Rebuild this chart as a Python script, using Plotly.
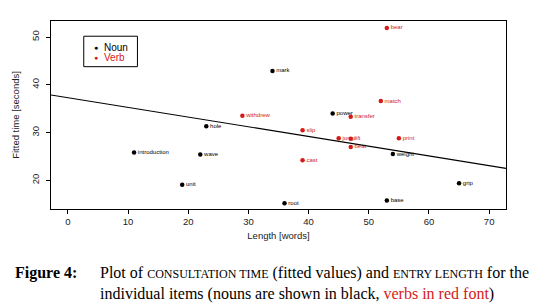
import plotly.graph_objects as go

# ---- data ----
noun_words = ["mark", "power", "hole", "introduction", "wave", "weight", "unit", "grip", "base", "root"]
noun_length = [34, 44, 23, 11, 22, 54, 19, 65, 53, 36]
noun_time = [42.9, 34.0, 31.3, 25.8, 25.4, 25.5, 19.1, 19.4, 15.8, 15.2]

verb_words = ["bear", "match", "withdrew", "transfer", "slip", "jump", "lift", "print", "beat", "cast"]
verb_length = [53, 52, 29, 47, 39, 45, 47, 55, 47, 39]
verb_time = [51.9, 36.6, 33.5, 33.3, 30.5, 28.8, 28.7, 28.8, 27.0, 24.2]

fit_intercept = 37.3
fit_slope = -0.203

x_ticks = [0, 10, 20, 30, 40, 50, 60, 70]
y_ticks = [20, 30, 40, 50]
legend_labels = ["Noun", "Verb"]

BLACK = "#000000"
RED = "#d41a1a"
x_range = [-2.8, 72.8]
y_range = [14.0, 53.35]

fig = go.Figure()
fig.add_trace(go.Scatter(
    x=noun_length, y=noun_time, text=noun_words, mode="markers+text", name=legend_labels[0],
    marker=dict(color=BLACK, size=4.5, symbol="circle"),
    textposition="middle right", textfont=dict(family="Liberation Sans", size=6, color=BLACK),
    showlegend=False,
))
fig.add_trace(go.Scatter(
    x=verb_length, y=verb_time, text=verb_words, mode="markers+text", name=legend_labels[1],
    marker=dict(color=RED, size=4.5, symbol="circle"),
    textposition="middle right", textfont=dict(family="Liberation Sans", size=6, color=RED),
    showlegend=False,
))
# regression line across the full plot width
fig.add_trace(go.Scatter(
    x=x_range, y=[fit_intercept + fit_slope * v for v in x_range], mode="lines",
    line=dict(color=BLACK, width=1.2), showlegend=False, hoverinfo="skip",
))

fig.update_layout(
    width=546, height=308,
    margin=dict(l=43, r=48, t=13, b=107),
    paper_bgcolor="white", plot_bgcolor="white",
    font=dict(family="Liberation Sans", size=10, color="#222"),
    xaxis=dict(
        range=x_range, tickvals=x_ticks, ticks="outside", ticklen=4, tickcolor=BLACK,
        automargin=False,
        showgrid=False, zeroline=False, showline=True, linecolor=BLACK, linewidth=1, mirror=True,
        title=dict(text="Length [words]", font=dict(size=9.5, color="#222"), standoff=5),
        tickfont=dict(size=9.5, color="#222"),
    ),
    yaxis=dict(
        range=y_range, tickvals=y_ticks, ticks="outside", ticklen=4, tickcolor=BLACK,
        tickangle=-90, ticklabelstandoff=3, automargin=False,
        showgrid=False, zeroline=False, showline=True, linecolor=BLACK, linewidth=1, mirror=True,
        title=dict(text="Fitted time [seconds]", font=dict(size=9.5, color="#222"), standoff=8),
        tickfont=dict(size=9.5, color="#222"),
    ),
)

# legend box drawn manually (compact, like R's legend())
fig.add_shape(type="rect", xref="paper", yref="paper", x0=0.072, x1=0.190, y0=0.757, y1=0.919,
              line=dict(color=BLACK, width=1), fillcolor="white", layer="below")
for lab, col, yy in [(legend_labels[0], BLACK, 0.860), (legend_labels[1], RED, 0.805)]:
    fig.add_annotation(xref="paper", yref="paper", x=0.099, y=yy, text="●", showarrow=False,
                       font=dict(size=7, color=col), xanchor="center", yanchor="middle")
    fig.add_annotation(xref="paper", yref="paper", x=0.112, y=yy, text=lab, showarrow=False,
                       font=dict(family="Liberation Sans", size=10, color=col),
                       xanchor="left", yanchor="middle")

# figure caption
SC = "font-size:12px"
fig.add_annotation(
    xref="paper", yref="paper", x=-0.0835, y=-0.28, xanchor="left", yanchor="top",
    showarrow=False, align="left",
    font=dict(family="Liberation Serif", size=16, color=BLACK),
    text="<b>Figure 4:</b>",
)
fig.add_annotation(
    xref="paper", yref="paper", x=0.104, y=-0.28, xanchor="left", yanchor="top",
    showarrow=False, align="left",
    font=dict(family="Liberation Serif", size=16, color=BLACK),
    text=(f"Plot of <span style='{SC}'>CONSULTATION TIME</span> (fitted values) and "
          f"<span style='{SC}'>ENTRY LENGTH</span> for the<br>"
          f"individual items (nouns are shown in black, <span style='color:{RED}'>verbs in red font</span>)"),
)

fig.write_html("out.html")
